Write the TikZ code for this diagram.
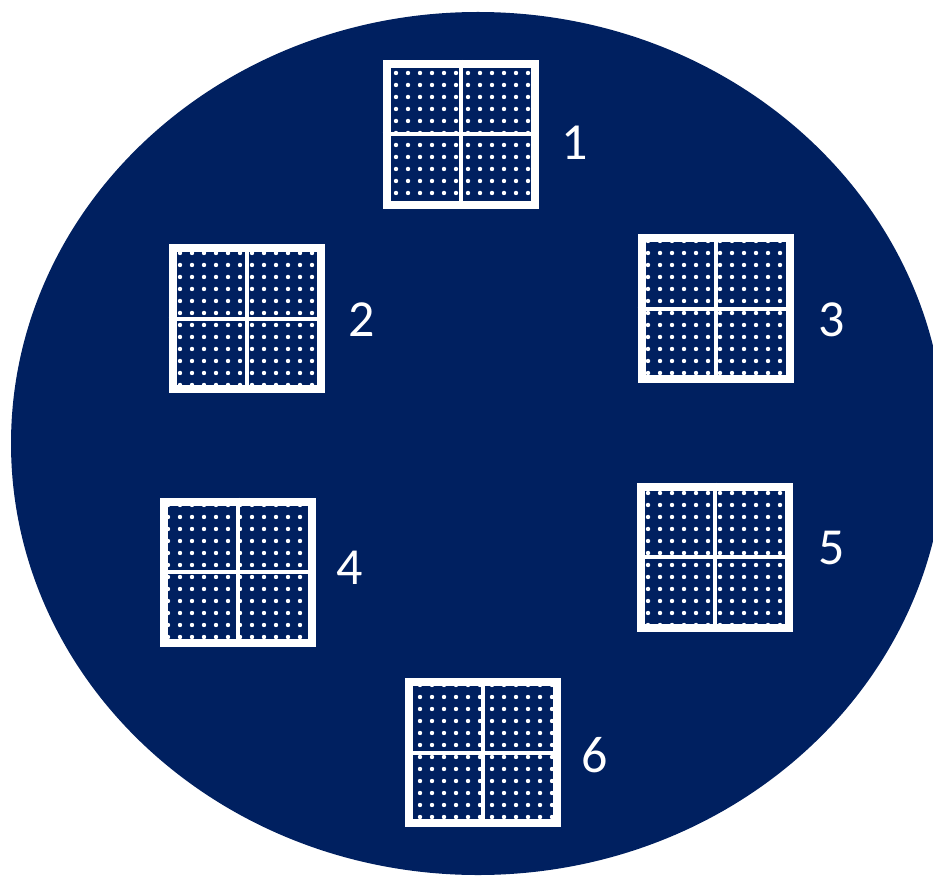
\documentclass[tikz,border=0pt]{standalone}
\usepackage{fontspec}
\setmainfont{Carlito}
\usetikzlibrary{calc,patterns.meta}
\definecolor{navy}{RGB}{0,32,96}
\tikzset{
    win/.style={fill=white, inner sep=0pt, minimum width=156pt, minimum height=149pt,
        path picture={
            \fill[navy] ($(path picture bounding box.north west)+(8,8)$) rectangle ($(path picture bounding box.south east)+(-8,-8)$);
            \fill[pattern={Dots[radius=2.2pt, distance=12pt]}, pattern color=white]
                ($(path picture bounding box.north west)+(8,8)$) rectangle ($(path picture bounding box.south east)+(-8,-8)$);
            \draw[white, line width=4pt] (path picture bounding box.north) -- (path picture bounding box.south);
            \draw[white, line width=4pt] (path picture bounding box.west) -- (path picture bounding box.east);
        }},
    num/.style={text=white, inner sep=0pt, font=\fontsize{52}{60}\selectfont}
}
\begin{document}
\begin{tikzpicture}[x=1pt, y=-1pt]
    \path[fill=white, use as bounding box] (0,0) rectangle (933,877);
    \begin{scope}
        \clip (0,0) rectangle (933,877);
        \fill[navy] (478,443.5) ellipse [x radius=467, y radius=431.5];
    \end{scope}
    % windows
    \node[win] (w1) at (460.5,134.5) {};
    \node[win] (w2) at (246.5,318.5) {};
    \node[win] (w3) at (715.5,308.5) {};
    \node[win] (w4) at (238,572) {};
    \node[win] (w5) at (715,557) {};
    \node[win] (w6) at (483,752.5) {};
    % numbers
    \node[num] (l1) at (575,143) {1};
    \node[num] (l2) at (362,320) {2};
    \node[num] (l3) at (832,320) {3};
    \node[num] (l4) at (350,568) {4};
    \node[num] (l5) at (832,548) {5};
    \node[num] (l6) at (595,755) {6};
\end{tikzpicture}
\end{document}
